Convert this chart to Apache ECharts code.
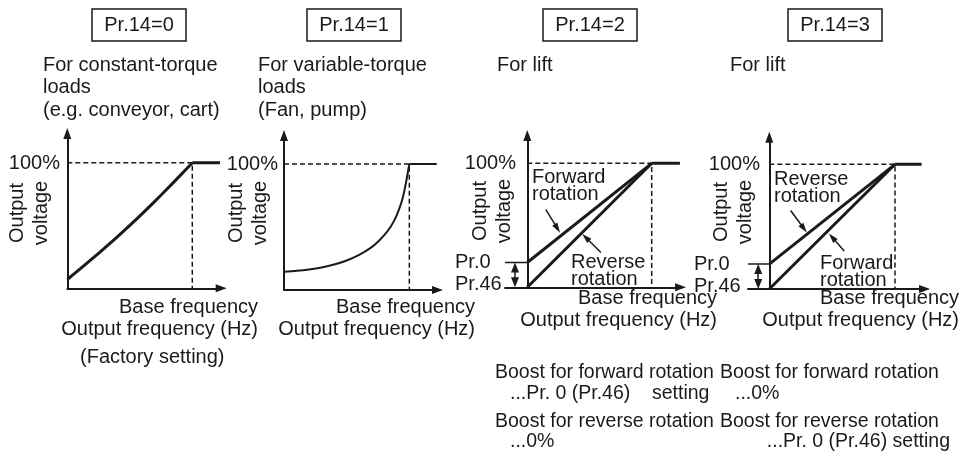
<!DOCTYPE html>
<html>
<head>
<meta charset="utf-8">
<script src="https://cdn.jsdelivr.net/npm/echarts@6/dist/echarts.min.js"></script>
<style>
  html, body { margin: 0; padding: 0; background: #fff; }
  #chart { width: 963px; height: 452px; }
</style>
</head>
<body>
<div id="chart"></div>
<script>
// Output voltage (% of rated) against output frequency (% of base frequency)

// Pr.14=0 : constant-torque pattern
const ctFreq = [0, 10, 20, 30, 40, 50, 60, 70, 80, 90, 100];
const ctVolt = [7, 15.2, 23.6, 32.2, 41, 50.1, 59.5, 69.2, 79.2, 89.5, 100];

// Pr.14=1 : variable-torque pattern
const vtFreq = [0, 10, 20, 30, 40, 50, 60, 70, 75, 80, 85, 90, 95, 100];
const vtVolt = [14.5, 15.2, 16.3, 17.9, 20.2, 23.4, 27.8, 34, 38.3, 43.5, 50, 59.5, 74, 100];

// Pr.14=2 / 3 : lift patterns (straight lines)
const liftFreq = [0, 100];
const liftBoosted = [20, 100];   // starts at the Pr.0 boost level
const liftPlain = [0, 100];      // starts at 0 %

const baseFreq = 100;
const fullVolt = 100;
const boostLevel = 20;
// frequency where the flat 100 % segment stops in each panel
const flatEnd = [122.2, 121.9, 122.7, 121.2];

// pointer arrows from the rotation captions to their lines
const p3Forward = [[14.8, 62.8], [24.2, 47.5]];
const p3Reverse = [[59.2, 28.0], [47.0, 40.2]];
const p4Reverse = [[17.0, 63.0], [27.5, 48.5]];
const p4Forward = [[59.6, 30.5], [50.0, 41.5]];

// text content
const panelTitles = ['Pr.14=0', 'Pr.14=1', 'Pr.14=2', 'Pr.14=3'];
const panelNotes = [
  'For constant-torque\nloads\n(e.g. conveyor, cart)',
  'For variable-torque\nloads\n(Fan, pump)',
  'For lift',
  'For lift'
];

// ---- layout (pixel frame of each panel) ----
const frames = [
  { ox: 67.3,  oy: 288.3, sx: 1.25,  sy: 1.256, xmin: 0,     xmax: 123.1, ymax: 123.2 },
  { ox: 284,   oy: 290,   sx: 1.253, sy: 1.26,  xmin: 0,     xmax: 122.5, ymax: 122.6 },
  { ox: 527.3, oy: 287.3, sx: 1.244, sy: 1.24,  xmin: -17.9, xmax: 123.2, ymax: 122.4 },
  { ox: 769.3, oy: 289,   sx: 1.257, sy: 1.247, xmin: -16.9, xmax: 123.5, ymax: 121.7 }
];

const INK = '#1a1a1a';
const FAMILY = '"Liberation Sans", Arial, Helvetica, sans-serif';
const FONT = '20px ' + FAMILY;
const FONT_NOTE = '19.5px ' + FAMILY;

const zip = (xs, ys) => xs.map((x, i) => [x, ys[i]]);

const grid = frames.map(f => ({
  left: f.ox + f.xmin * f.sx,
  top: f.oy - f.ymax * f.sy,
  width: (f.xmax - f.xmin) * f.sx,
  height: f.ymax * f.sy,
  containLabel: false
}));

const axisBase = {
  type: 'value',
  axisTick: { show: false },
  axisLabel: { show: false },
  splitLine: { show: false },
  axisLine: {
    show: true,
    onZero: true,
    symbol: ['none', 'triangle'],
    symbolSize: [8, 11],
    lineStyle: { color: INK, width: 2 }
  }
};

const xAxis = frames.map((f, i) => Object.assign({}, axisBase, { gridIndex: i, min: f.xmin, max: f.xmax }));
const yAxis = frames.map((f, i) => Object.assign({}, axisBase, { gridIndex: i, min: 0, max: f.ymax }));

function lineSeries(i, data, width, extra) {
  return Object.assign({
    type: 'line',
    xAxisIndex: i,
    yAxisIndex: i,
    data: data,
    showSymbol: false,
    symbol: 'none',
    silent: true,
    animation: false,
    lineStyle: { color: INK, width: width, cap: 'butt', join: 'round' },
    z: 3
  }, extra || {});
}

function guideSeries(i) {
  // dashed 100 % level and base-frequency marker
  return lineSeries(i, [[0, fullVolt], [baseFreq, fullVolt], [baseFreq, 0]], 1.5, {
    lineStyle: { color: INK, width: 1.5, type: [5, 3] },
    z: 2
  });
}

function flatSeries(i, width) {
  return lineSeries(i, [[baseFreq, fullVolt], [flatEnd[i], fullVolt]], width);
}

function pointer(i, seg) {
  return {
    type: 'line', xAxisIndex: i, yAxisIndex: i, data: [], silent: true, animation: false,
    markLine: {
      silent: true, animation: false,
      symbol: ['none', 'triangle'], symbolSize: [6, 10],
      label: { show: false },
      lineStyle: { color: INK, width: 1.5, type: 'solid' },
      data: [[{ coord: seg[0] }, { coord: seg[1] }]]
    }
  };
}

function boostMarker(i, xm, xmin) {
  return [
    // short tick at the Pr.0 boost level
    lineSeries(i, [[xmin, boostLevel], [0, boostLevel]], 1.5),
    {
      type: 'line', xAxisIndex: i, yAxisIndex: i, data: [], silent: true, animation: false,
      markLine: {
        silent: true, animation: false,
        symbol: ['triangle', 'triangle'], symbolSize: [8, 10],
        label: { show: false },
        lineStyle: { color: INK, width: 1.5, type: 'solid' },
        data: [[{ coord: [xm, boostLevel - 4] }, { coord: [xm, 4] }]]
      }
    }
  ];
}

const series = [
  // Pr.14=0
  guideSeries(0),
  lineSeries(0, zip(ctFreq, ctVolt), 3, { smooth: 0.3 }),
  flatSeries(0, 3),
  // Pr.14=1
  guideSeries(1),
  lineSeries(1, zip(vtFreq, vtVolt), 2, { smooth: 0.3 }),
  flatSeries(1, 2),
  // Pr.14=2
  guideSeries(2),
  lineSeries(2, zip(liftFreq, liftBoosted), 3),
  lineSeries(2, zip(liftFreq, liftPlain), 3),
  flatSeries(2, 3),
  ...boostMarker(2, -9.9, frames[2].xmin),
  pointer(2, p3Forward),
  pointer(2, p3Reverse),
  // Pr.14=3
  guideSeries(3),
  lineSeries(3, zip(liftFreq, liftBoosted), 3),
  lineSeries(3, zip(liftFreq, liftPlain), 3),
  flatSeries(3, 3),
  ...boostMarker(3, -8.8, frames[3].xmin),
  pointer(3, p4Reverse),
  pointer(3, p4Forward)
];

// ---- text and boxes ----
function txt(text, x, y, align, opts) {
  opts = opts || {};
  const el = {
    type: 'text', x: x, y: y, silent: true,
    style: {
      text: text, fill: INK, font: opts.font || FONT,
      align: align || 'left', verticalAlign: 'middle', lineHeight: opts.lineHeight || 22.5
    }
  };
  if (opts.rotation) el.rotation = opts.rotation;
  return el;
}

const boxes = [
  { x: 92, cx: 139 },
  { x: 307, cx: 354 },
  { x: 543, cx: 590 },
  { x: 788, cx: 835 }
];

const graphic = [];
boxes.forEach((b, i) => {
  graphic.push({
    type: 'rect', silent: true,
    shape: { x: b.x, y: 9, width: 94, height: 32 },
    style: { fill: 'none', stroke: INK, lineWidth: 1.5 }
  });
  graphic.push(txt(panelTitles[i], b.cx, 25, 'center'));
});

// descriptions above the plots
graphic.push(txt(panelNotes[0], 43, 87.5, 'left'));
graphic.push(txt(panelNotes[1], 258, 87.5, 'left'));
graphic.push(txt(panelNotes[2], 497, 65, 'left'));
graphic.push(txt(panelNotes[3], 730, 65, 'left'));

// 100 % labels
[[60, 163], [278, 164], [516, 163], [760, 164]].forEach(p => graphic.push(txt('100%', p[0], p[1], 'right')));

// rotated axis titles
[[29, 213], [248, 213], [492, 211], [733, 212]].forEach(p => {
  graphic.push(txt('Output\nvoltage', p[0], p[1], 'center', { rotation: Math.PI / 2, lineHeight: 24 }));
});

// frequency axis titles
[[258, 307, 329], [475, 307, 329], [717, 298, 320], [959, 298, 320]].forEach(p => {
  graphic.push(txt('Base frequency', p[0], p[1], 'right'));
  graphic.push(txt('Output frequency (Hz)', p[0], p[2], 'right'));
});
graphic.push(txt('(Factory setting)', 80, 357, 'left'));

// boost level labels
graphic.push(txt('Pr.0', 455, 262, 'left'));
graphic.push(txt('Pr.46', 455, 284, 'left'));
graphic.push(txt('Pr.0', 694, 264, 'left'));
graphic.push(txt('Pr.46', 694, 286, 'left'));

// rotation captions
graphic.push(txt('Forward\nrotation', 532, 185.5, 'left', { lineHeight: 17 }));
graphic.push(txt('Reverse\nrotation', 571, 271, 'left', { lineHeight: 17 }));
graphic.push(txt('Reverse\nrotation', 774, 188, 'left', { lineHeight: 17 }));
graphic.push(txt('Forward\nrotation', 820, 272, 'left', { lineHeight: 17 }));

// boost notes
const note = { font: FONT_NOTE };
graphic.push(txt('Boost for forward rotation', 495, 373, 'left', note));
graphic.push(txt('...Pr. 0 (Pr.46)', 510, 394, 'left', note));
graphic.push(txt('setting', 652, 394, 'left', note));
graphic.push(txt('Boost for reverse rotation', 495, 422, 'left', note));
graphic.push(txt('...0%', 510, 442, 'left', note));
graphic.push(txt('Boost for forward rotation', 720, 373, 'left', note));
graphic.push(txt('...0%', 735, 394, 'left', note));
graphic.push(txt('Boost for reverse rotation', 720, 422, 'left', note));
graphic.push(txt('...Pr. 0 (Pr.46) setting', 950, 442, 'right', note));

const chart = echarts.init(document.getElementById('chart'), null, { renderer: 'canvas' });
chart.setOption({
  backgroundColor: '#ffffff',
  animation: false,
  grid: grid,
  xAxis: xAxis,
  yAxis: yAxis,
  series: series,
  graphic: { elements: graphic }
});
</script>
</body>
</html>
